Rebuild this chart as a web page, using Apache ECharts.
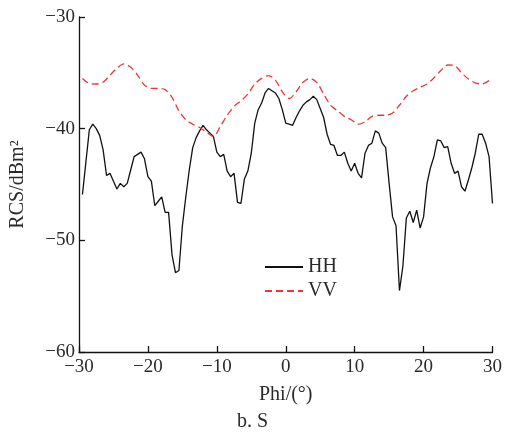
<!DOCTYPE html>
<html lang="en">
<head>
    <meta charset="UTF-8">
    <title>RCS</title>
    <style>
        body, html { margin: 0; padding: 0; background: #fff; }
        #main { width: 505px; height: 434px; }
    </style>
</head>
<body>
<div id="main"></div>
<script src="https://cdn.jsdelivr.net/npm/echarts@6/dist/echarts.min.js"></script>
<script>
    // sampling: HH every 0.5 deg from -29.5, VV every 1 deg from -29.5
    var hhStart = -29.5, hhStep = 0.5;
    var vvStart = -29.5, vvStep = 1;

    var hhValues = [
        -45.9, -43.0, -40.1, -39.6, -40.0, -40.6, -41.9, -44.2, -44.0, -44.7,
        -45.4, -44.9, -45.2, -44.9, -43.7, -42.5, -42.3, -42.1, -42.7, -44.3,
        -44.7, -46.9, -46.5, -46.1, -47.5, -47.5, -51.3, -52.9, -52.7, -48.7,
        -46.1, -43.7, -41.7, -40.8, -40.2, -39.7, -40.1, -40.4, -40.7, -42.1,
        -42.5, -42.3, -43.8, -44.3, -44.0, -46.6, -46.7, -44.5, -43.8, -42.2,
        -39.5, -38.3, -37.7, -36.8, -36.4, -36.6, -36.8, -37.3, -38.3, -39.5,
        -39.6, -39.7, -39.0, -38.4, -37.9, -37.6, -37.4, -37.1, -37.4, -38.2,
        -39.0, -40.5, -41.4, -41.5, -42.4, -42.4, -42.1, -43.1, -43.8, -43.1,
        -44.0, -44.4, -42.2, -41.5, -41.3, -40.2, -40.4, -41.3, -41.7, -44.9,
        -47.9, -48.7, -54.5, -52.3, -48.0, -47.4, -48.4, -47.3, -48.9, -47.9,
        -44.9, -43.5, -42.5, -41.0, -41.1, -41.7, -41.6, -43.1, -44.0, -43.8,
        -45.2, -45.6, -44.6, -43.5, -42.2, -40.5, -40.5, -41.3, -42.5, -46.7
    ];

    var vvValues = [
        -35.5, -35.95, -36.0, -35.85, -35.2, -34.6, -34.2, -34.5, -35.2, -36.1,
        -36.4, -36.4, -36.5, -37.2, -38.4, -39.2, -39.6, -39.9, -40.3, -40.7,
        -39.8, -38.8, -38.0, -37.5, -36.9, -36.0, -35.5, -35.25, -35.65, -36.7,
        -37.3, -36.7, -35.85, -35.5, -35.85, -36.9, -37.9, -38.4, -38.9, -39.2,
        -39.6, -39.4, -38.9, -38.8, -38.8, -38.6, -37.9, -37.1, -36.6, -36.3,
        -36.0, -35.45, -34.8, -34.3, -34.35, -35.0, -35.55, -35.9, -36.0, -35.7
    ];

    var seriesNames = ['HH', 'VV'];
    var xTitle = 'Phi/(°)';
    var yTitle = 'RCS/dBm²';
    var caption = 'b. S';

    function pairs(start, step, vals) {
        var out = [];
        for (var i = 0; i < vals.length; i++) {
            out.push([start + i * step, vals[i]]);
        }
        return out;
    }

    // typographic minus like the original
    function minus(v) {
        return v < 0 ? '\u2212' + Math.abs(v) : String(v);
    }

    var font = 'Liberation Serif';
    var textColor = '#2a2a2a';
    var vvColor = '#ee3535';
    var myChart = echarts.init(document.getElementById('main'));

    myChart.setOption({
        backgroundColor: '#fff',
        animation: false,
        title: {
            text: caption,
            left: 'center',
            top: 412,
            padding: 0,
            textStyle: { fontFamily: font, fontSize: 20, fontWeight: 'normal', color: textColor }
        },
        legend: {
            orient: 'vertical',
            left: 259,
            top: 252,
            itemWidth: 38,
            itemHeight: 12,
            itemGap: 4,
            itemStyle: { opacity: 0 },
            textStyle: { fontFamily: font, fontSize: 20, color: textColor },
            data: seriesNames
        },
        grid: { left: 79, right: 11, top: 17, bottom: 82 },
        xAxis: {
            type: 'value',
            min: -30, max: 30, interval: 10,
            name: xTitle,
            nameLocation: 'middle',
            nameGap: 33,
            nameTextStyle: { fontFamily: font, fontSize: 20, color: textColor },
            axisLine: { onZero: false, lineStyle: { color: '#111', width: 1.3 } },
            axisTick: { inside: true, length: 6, lineStyle: { color: '#111', width: 1.3 } },
            axisLabel: { fontFamily: font, fontSize: 19, color: textColor, margin: 6, formatter: minus },
            splitLine: { show: false }
        },
        yAxis: {
            type: 'value',
            min: -60, max: -30, interval: 10,
            name: yTitle,
            nameLocation: 'middle',
            nameGap: 51,
            nameTextStyle: { fontFamily: font, fontSize: 20, color: textColor },
            axisLine: { onZero: false, lineStyle: { color: '#111', width: 1.3 } },
            axisTick: { inside: true, length: 6, lineStyle: { color: '#111', width: 1.3 } },
            axisLabel: { fontFamily: font, fontSize: 19, color: textColor, margin: 4, formatter: minus },
            splitLine: { show: false }
        },
        series: [
            {
                name: seriesNames[0],
                type: 'line',
                symbol: 'none',
                data: pairs(hhStart, hhStep, hhValues),
                lineStyle: { color: '#111', width: 1.3 },
                itemStyle: { color: '#111' }
            },
            {
                name: seriesNames[1],
                type: 'line',
                symbol: 'none',
                smooth: 0.3,
                data: pairs(vvStart, vvStep, vvValues),
                lineStyle: { color: vvColor, width: 1.3, type: [7, 4] },
                itemStyle: { color: vvColor }
            }
        ]
    });
</script>
</body>
</html>
